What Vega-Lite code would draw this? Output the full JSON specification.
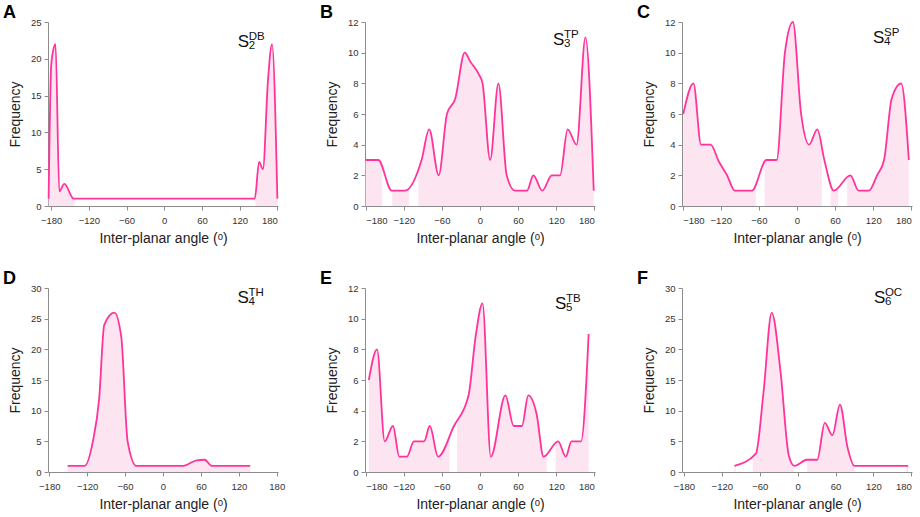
{
  "$schema": "https://vega.github.io/schema/vega-lite/v6.json",
  "padding": {"left": 3, "top": 4, "right": 5, "bottom": 5},
  "config": {
    "view": {"stroke": null},
    "font": "Liberation Sans",
    "axis": {
      "grid": false,
      "zindex": 1,
      "labelOverlap": false,
      "format": "d",
      "domainColor": "#8c8c8c",
      "tickColor": "#8c8c8c",
      "labelColor": "#333333",
      "labelFontSize": 9.5,
      "titleFontSize": 14,
      "titleFontWeight": "normal",
      "titleColor": "#222222",
      "tickSize": 4
    },
    "axisX": {"labelPadding": 5, "titlePadding": 7},
    "axisY": {"labelPadding": 3, "titlePadding": 8},
    "title": {"fontSize": 18, "fontWeight": "bold", "anchor": "start", "frame": "group", "dx": -45, "offset": -5, "color": "#000000"}
  },
  "datasets": {
    "A": [
      {"angle": -184, "freq": 1}, {"angle": -180, "freq": 19}, {"angle": -177, "freq": 21}, {"angle": -173, "freq": 22},
      {"angle": -167, "freq": 2}, {"angle": -159, "freq": 3}, {"angle": -144, "freq": 1}, {"angle": 144, "freq": 1},
      {"angle": 151, "freq": 6}, {"angle": 157, "freq": 5}, {"angle": 165, "freq": 17}, {"angle": 171.5, "freq": 22},
      {"angle": 180, "freq": 1}
    ],
    "B": [
      {"angle": -180, "freq": 3}, {"angle": -160, "freq": 3}, {"angle": -139, "freq": 1}, {"angle": -118, "freq": 1},
      {"angle": -92, "freq": 3}, {"angle": -80, "freq": 5}, {"angle": -65, "freq": 2}, {"angle": -52, "freq": 6},
      {"angle": -39, "freq": 7}, {"angle": -24, "freq": 10}, {"angle": -15, "freq": 9.4}, {"angle": -2, "freq": 8.6},
      {"angle": 4, "freq": 8}, {"angle": 16, "freq": 3}, {"angle": 29, "freq": 8}, {"angle": 42, "freq": 2},
      {"angle": 55, "freq": 1}, {"angle": 74, "freq": 1}, {"angle": 84, "freq": 2}, {"angle": 98, "freq": 1},
      {"angle": 113, "freq": 2}, {"angle": 126, "freq": 2}, {"angle": 138, "freq": 5}, {"angle": 152, "freq": 4},
      {"angle": 166, "freq": 11}, {"angle": 179, "freq": 1}
    ],
    "C": [
      {"angle": -179, "freq": 6}, {"angle": -163, "freq": 8}, {"angle": -151, "freq": 4}, {"angle": -136, "freq": 4},
      {"angle": -123, "freq": 2.9}, {"angle": -110, "freq": 2}, {"angle": -98, "freq": 1}, {"angle": -71, "freq": 1},
      {"angle": -48, "freq": 3}, {"angle": -32, "freq": 3}, {"angle": -19, "freq": 10}, {"angle": -6.5, "freq": 12},
      {"angle": 6.5, "freq": 6}, {"angle": 19, "freq": 4}, {"angle": 32, "freq": 5}, {"angle": 43, "freq": 3},
      {"angle": 58, "freq": 1}, {"angle": 84, "freq": 2}, {"angle": 97, "freq": 1}, {"angle": 113, "freq": 1},
      {"angle": 126, "freq": 2}, {"angle": 137, "freq": 3}, {"angle": 149, "freq": 7}, {"angle": 164, "freq": 8},
      {"angle": 176, "freq": 3}
    ],
    "D": [
      {"angle": -151, "freq": 1}, {"angle": -124, "freq": 1}, {"angle": -111, "freq": 5}, {"angle": -101, "freq": 12},
      {"angle": -93, "freq": 24}, {"angle": -77, "freq": 26}, {"angle": -66, "freq": 22}, {"angle": -56, "freq": 5},
      {"angle": -42, "freq": 1}, {"angle": 32, "freq": 1}, {"angle": 53, "freq": 1.9}, {"angle": 66, "freq": 2},
      {"angle": 77, "freq": 1}, {"angle": 138, "freq": 1}
    ],
    "E": [
      {"angle": -175, "freq": 6}, {"angle": -162, "freq": 8}, {"angle": -150, "freq": 2}, {"angle": -137, "freq": 3},
      {"angle": -127, "freq": 1}, {"angle": -115, "freq": 1}, {"angle": -104, "freq": 2}, {"angle": -88, "freq": 2},
      {"angle": -79, "freq": 3}, {"angle": -66, "freq": 1}, {"angle": -41, "freq": 3}, {"angle": -18, "freq": 5},
      {"angle": -7, "freq": 8.8}, {"angle": 4, "freq": 11}, {"angle": 17, "freq": 1}, {"angle": 40, "freq": 5},
      {"angle": 53, "freq": 3}, {"angle": 66, "freq": 3}, {"angle": 76, "freq": 5}, {"angle": 89, "freq": 3.8},
      {"angle": 100, "freq": 1}, {"angle": 123, "freq": 2}, {"angle": 135, "freq": 1}, {"angle": 144, "freq": 2},
      {"angle": 159, "freq": 2}, {"angle": 171, "freq": 9}
    ],
    "F": [
      {"angle": -100, "freq": 1}, {"angle": -66, "freq": 3}, {"angle": -54, "freq": 13}, {"angle": -41, "freq": 26},
      {"angle": -27, "freq": 16.3}, {"angle": -14, "freq": 2.7}, {"angle": -5, "freq": 1}, {"angle": 15, "freq": 2},
      {"angle": 31, "freq": 2}, {"angle": 43, "freq": 8}, {"angle": 55, "freq": 6}, {"angle": 67, "freq": 11},
      {"angle": 79, "freq": 4}, {"angle": 90, "freq": 1}, {"angle": 175, "freq": 1}
    ],
    "gaps": [
      {"panel": "A", "from": -143, "to": 145},
      {"panel": "B", "from": -154, "to": -138},
      {"panel": "B", "from": -112, "to": -97},
      {"panel": "C", "from": -65, "to": -51},
      {"panel": "C", "from": 39, "to": 53},
      {"panel": "C", "from": 65, "to": 79},
      {"panel": "E", "from": -48, "to": -36},
      {"panel": "E", "from": 105, "to": 119},
      {"panel": "F", "from": -98, "to": -71},
      {"panel": "F", "from": -5, "to": 15},
      {"panel": "F", "from": 90, "to": 172}
    ],
    "labels": [
      {"panel": "A", "x": 117, "y": 21.6, "sub": "2", "sup": "DB"},
      {"panel": "B", "x": 115, "y": 10.5, "sub": "3", "sup": "TP"},
      {"panel": "C", "x": 119.6, "y": 10.6, "sub": "4", "sup": "SP"},
      {"panel": "D", "x": 118, "y": 27.5, "sub": "4", "sup": "TH"},
      {"panel": "E", "x": 118, "y": 10.6, "sub": "5", "sup": "TB"},
      {"panel": "F", "x": 120.7, "y": 27.5, "sub": "6", "sup": "OC"}
    ]
  },
  "bounds": "flush",
  "columns": 3,
  "spacing": {"row": 82, "column": 87},
  "concat": [
    {
      "width": 230, "height": 184,
      "title": "A",
      "layer": [
        {"data": {"name": "A"}, "mark": {"type": "area", "interpolate": "monotone", "color": "#fde4f1"},
         "encoding": {
           "x": {"field": "angle", "type": "quantitative", "title": "Inter-planar angle (ᵒ)", "scale": {"domain": [-185, 181], "nice": false, "zero": false}, "axis": {"values": [-180, -120, -60, 0, 60, 120, 180], "tickCount": 20, "format": "d"}},
           "y": {"field": "freq", "type": "quantitative", "title": "Frequency", "scale": {"domain": [0, 25], "nice": false}, "axis": {"values": [0, 5, 10, 15, 20, 25], "tickCount": 20, "format": "d"}}
         }},
        {"data": {"name": "gaps"}, "transform": [{"filter": "datum.panel === 'A'"}], "mark": {"type": "rect", "color": "#ffffff"},
         "encoding": {"x": {"field": "from", "type": "quantitative"}, "x2": {"field": "to"}}},
        {"data": {"name": "A"}, "mark": {"type": "line", "interpolate": "monotone", "color": "#ff3399", "strokeWidth": 1.8},
         "encoding": {"x": {"field": "angle", "type": "quantitative"}, "y": {"field": "freq", "type": "quantitative"}}},
        {"data": {"name": "labels"}, "transform": [{"filter": "datum.panel === 'A'"}], "mark": {"type": "text", "text": "S", "fontSize": 17, "align": "left", "baseline": "alphabetic", "color": "#111111"},
         "encoding": {"x": {"field": "x", "type": "quantitative"}, "y": {"field": "y", "type": "quantitative"}}},
        {"data": {"name": "labels"}, "transform": [{"filter": "datum.panel === 'A'"}], "mark": {"type": "text", "fontSize": 11.5, "dx": 11, "dy": 2, "align": "left", "baseline": "alphabetic", "color": "#111111"},
         "encoding": {"x": {"field": "x", "type": "quantitative"}, "y": {"field": "y", "type": "quantitative"}, "text": {"field": "sub"}}},
        {"data": {"name": "labels"}, "transform": [{"filter": "datum.panel === 'A'"}], "mark": {"type": "text", "fontSize": 11.5, "dx": 11, "dy": -7, "align": "left", "baseline": "alphabetic", "color": "#111111"},
         "encoding": {"x": {"field": "x", "type": "quantitative"}, "y": {"field": "y", "type": "quantitative"}, "text": {"field": "sup"}}}
      ]
    },
    {
      "width": 230, "height": 184,
      "title": "B",
      "layer": [
        {"data": {"name": "B"}, "mark": {"type": "area", "interpolate": "monotone", "color": "#fde4f1"},
         "encoding": {
           "x": {"field": "angle", "type": "quantitative", "title": "Inter-planar angle (ᵒ)", "scale": {"domain": [-181, 181], "nice": false, "zero": false}, "axis": {"values": [-180, -120, -60, 0, 60, 120, 180], "tickCount": 20, "format": "d"}},
           "y": {"field": "freq", "type": "quantitative", "title": "Frequency", "scale": {"domain": [0, 12], "nice": false}, "axis": {"values": [0, 2, 4, 6, 8, 10, 12], "tickCount": 20, "format": "d"}}
         }},
        {"data": {"name": "gaps"}, "transform": [{"filter": "datum.panel === 'B'"}], "mark": {"type": "rect", "color": "#ffffff"},
         "encoding": {"x": {"field": "from", "type": "quantitative"}, "x2": {"field": "to"}}},
        {"data": {"name": "B"}, "mark": {"type": "line", "interpolate": "monotone", "color": "#ff3399", "strokeWidth": 1.8},
         "encoding": {"x": {"field": "angle", "type": "quantitative"}, "y": {"field": "freq", "type": "quantitative"}}},
        {"data": {"name": "labels"}, "transform": [{"filter": "datum.panel === 'B'"}], "mark": {"type": "text", "text": "S", "fontSize": 17, "align": "left", "baseline": "alphabetic", "color": "#111111"},
         "encoding": {"x": {"field": "x", "type": "quantitative"}, "y": {"field": "y", "type": "quantitative"}}},
        {"data": {"name": "labels"}, "transform": [{"filter": "datum.panel === 'B'"}], "mark": {"type": "text", "fontSize": 11.5, "dx": 11, "dy": 2, "align": "left", "baseline": "alphabetic", "color": "#111111"},
         "encoding": {"x": {"field": "x", "type": "quantitative"}, "y": {"field": "y", "type": "quantitative"}, "text": {"field": "sub"}}},
        {"data": {"name": "labels"}, "transform": [{"filter": "datum.panel === 'B'"}], "mark": {"type": "text", "fontSize": 11.5, "dx": 11, "dy": -7, "align": "left", "baseline": "alphabetic", "color": "#111111"},
         "encoding": {"x": {"field": "x", "type": "quantitative"}, "y": {"field": "y", "type": "quantitative"}, "text": {"field": "sup"}}}
      ]
    },
    {
      "width": 230, "height": 184,
      "title": "C",
      "layer": [
        {"data": {"name": "C"}, "mark": {"type": "area", "interpolate": "monotone", "color": "#fde4f1"},
         "encoding": {
           "x": {"field": "angle", "type": "quantitative", "title": "Inter-planar angle (ᵒ)", "scale": {"domain": [-181, 181], "nice": false, "zero": false}, "axis": {"values": [-180, -120, -60, 0, 60, 120, 180], "tickCount": 20, "format": "d"}},
           "y": {"field": "freq", "type": "quantitative", "title": "Frequency", "scale": {"domain": [0, 12], "nice": false}, "axis": {"values": [0, 2, 4, 6, 8, 10, 12], "tickCount": 20, "format": "d"}}
         }},
        {"data": {"name": "gaps"}, "transform": [{"filter": "datum.panel === 'C'"}], "mark": {"type": "rect", "color": "#ffffff"},
         "encoding": {"x": {"field": "from", "type": "quantitative"}, "x2": {"field": "to"}}},
        {"data": {"name": "C"}, "mark": {"type": "line", "interpolate": "monotone", "color": "#ff3399", "strokeWidth": 1.8},
         "encoding": {"x": {"field": "angle", "type": "quantitative"}, "y": {"field": "freq", "type": "quantitative"}}},
        {"data": {"name": "labels"}, "transform": [{"filter": "datum.panel === 'C'"}], "mark": {"type": "text", "text": "S", "fontSize": 17, "align": "left", "baseline": "alphabetic", "color": "#111111"},
         "encoding": {"x": {"field": "x", "type": "quantitative"}, "y": {"field": "y", "type": "quantitative"}}},
        {"data": {"name": "labels"}, "transform": [{"filter": "datum.panel === 'C'"}], "mark": {"type": "text", "fontSize": 11.5, "dx": 11, "dy": 2, "align": "left", "baseline": "alphabetic", "color": "#111111"},
         "encoding": {"x": {"field": "x", "type": "quantitative"}, "y": {"field": "y", "type": "quantitative"}, "text": {"field": "sub"}}},
        {"data": {"name": "labels"}, "transform": [{"filter": "datum.panel === 'C'"}], "mark": {"type": "text", "fontSize": 11.5, "dx": 11, "dy": -7, "align": "left", "baseline": "alphabetic", "color": "#111111"},
         "encoding": {"x": {"field": "x", "type": "quantitative"}, "y": {"field": "y", "type": "quantitative"}, "text": {"field": "sup"}}}
      ]
    },
    {
      "width": 230, "height": 184,
      "title": "D",
      "layer": [
        {"data": {"name": "D"}, "mark": {"type": "area", "interpolate": "monotone", "color": "#fde4f1"},
         "encoding": {
           "x": {"field": "angle", "type": "quantitative", "title": "Inter-planar angle (ᵒ)", "scale": {"domain": [-182, 182], "nice": false, "zero": false}, "axis": {"values": [-180, -120, -60, 0, 60, 120, 180], "tickCount": 20, "format": "d"}},
           "y": {"field": "freq", "type": "quantitative", "title": "Frequency", "scale": {"domain": [0, 30], "nice": false}, "axis": {"values": [0, 5, 10, 15, 20, 25, 30], "tickCount": 20, "format": "d"}}
         }},
        {"data": {"name": "D"}, "mark": {"type": "line", "interpolate": "monotone", "color": "#ff3399", "strokeWidth": 1.8},
         "encoding": {"x": {"field": "angle", "type": "quantitative"}, "y": {"field": "freq", "type": "quantitative"}}},
        {"data": {"name": "labels"}, "transform": [{"filter": "datum.panel === 'D'"}], "mark": {"type": "text", "text": "S", "fontSize": 17, "align": "left", "baseline": "alphabetic", "color": "#111111"},
         "encoding": {"x": {"field": "x", "type": "quantitative"}, "y": {"field": "y", "type": "quantitative"}}},
        {"data": {"name": "labels"}, "transform": [{"filter": "datum.panel === 'D'"}], "mark": {"type": "text", "fontSize": 11.5, "dx": 11, "dy": 2, "align": "left", "baseline": "alphabetic", "color": "#111111"},
         "encoding": {"x": {"field": "x", "type": "quantitative"}, "y": {"field": "y", "type": "quantitative"}, "text": {"field": "sub"}}},
        {"data": {"name": "labels"}, "transform": [{"filter": "datum.panel === 'D'"}], "mark": {"type": "text", "fontSize": 11.5, "dx": 11, "dy": -7, "align": "left", "baseline": "alphabetic", "color": "#111111"},
         "encoding": {"x": {"field": "x", "type": "quantitative"}, "y": {"field": "y", "type": "quantitative"}, "text": {"field": "sup"}}}
      ]
    },
    {
      "width": 230, "height": 184,
      "title": "E",
      "layer": [
        {"data": {"name": "E"}, "mark": {"type": "area", "interpolate": "monotone", "color": "#fde4f1"},
         "encoding": {
           "x": {"field": "angle", "type": "quantitative", "title": "Inter-planar angle (ᵒ)", "scale": {"domain": [-181, 181], "nice": false, "zero": false}, "axis": {"values": [-180, -120, -60, 0, 60, 120, 180], "tickCount": 20, "format": "d"}},
           "y": {"field": "freq", "type": "quantitative", "title": "Frequency", "scale": {"domain": [0, 12], "nice": false}, "axis": {"values": [0, 2, 4, 6, 8, 10, 12], "tickCount": 20, "format": "d"}}
         }},
        {"data": {"name": "gaps"}, "transform": [{"filter": "datum.panel === 'E'"}], "mark": {"type": "rect", "color": "#ffffff"},
         "encoding": {"x": {"field": "from", "type": "quantitative"}, "x2": {"field": "to"}}},
        {"data": {"name": "E"}, "mark": {"type": "line", "interpolate": "monotone", "color": "#ff3399", "strokeWidth": 1.8},
         "encoding": {"x": {"field": "angle", "type": "quantitative"}, "y": {"field": "freq", "type": "quantitative"}}},
        {"data": {"name": "labels"}, "transform": [{"filter": "datum.panel === 'E'"}], "mark": {"type": "text", "text": "S", "fontSize": 17, "align": "left", "baseline": "alphabetic", "color": "#111111"},
         "encoding": {"x": {"field": "x", "type": "quantitative"}, "y": {"field": "y", "type": "quantitative"}}},
        {"data": {"name": "labels"}, "transform": [{"filter": "datum.panel === 'E'"}], "mark": {"type": "text", "fontSize": 11.5, "dx": 11, "dy": 2, "align": "left", "baseline": "alphabetic", "color": "#111111"},
         "encoding": {"x": {"field": "x", "type": "quantitative"}, "y": {"field": "y", "type": "quantitative"}, "text": {"field": "sub"}}},
        {"data": {"name": "labels"}, "transform": [{"filter": "datum.panel === 'E'"}], "mark": {"type": "text", "fontSize": 11.5, "dx": 11, "dy": -7, "align": "left", "baseline": "alphabetic", "color": "#111111"},
         "encoding": {"x": {"field": "x", "type": "quantitative"}, "y": {"field": "y", "type": "quantitative"}, "text": {"field": "sup"}}}
      ]
    },
    {
      "width": 230, "height": 184,
      "title": "F",
      "layer": [
        {"data": {"name": "F"}, "mark": {"type": "area", "interpolate": "monotone", "color": "#fde4f1"},
         "encoding": {
           "x": {"field": "angle", "type": "quantitative", "title": "Inter-planar angle (ᵒ)", "scale": {"domain": [-183, 181], "nice": false, "zero": false}, "axis": {"values": [-180, -120, -60, 0, 60, 120, 180], "tickCount": 20, "format": "d"}},
           "y": {"field": "freq", "type": "quantitative", "title": "Frequency", "scale": {"domain": [0, 30], "nice": false}, "axis": {"values": [0, 5, 10, 15, 20, 25, 30], "tickCount": 20, "format": "d"}}
         }},
        {"data": {"name": "gaps"}, "transform": [{"filter": "datum.panel === 'F'"}], "mark": {"type": "rect", "color": "#ffffff"},
         "encoding": {"x": {"field": "from", "type": "quantitative"}, "x2": {"field": "to"}}},
        {"data": {"name": "F"}, "mark": {"type": "line", "interpolate": "monotone", "color": "#ff3399", "strokeWidth": 1.8},
         "encoding": {"x": {"field": "angle", "type": "quantitative"}, "y": {"field": "freq", "type": "quantitative"}}},
        {"data": {"name": "labels"}, "transform": [{"filter": "datum.panel === 'F'"}], "mark": {"type": "text", "text": "S", "fontSize": 17, "align": "left", "baseline": "alphabetic", "color": "#111111"},
         "encoding": {"x": {"field": "x", "type": "quantitative"}, "y": {"field": "y", "type": "quantitative"}}},
        {"data": {"name": "labels"}, "transform": [{"filter": "datum.panel === 'F'"}], "mark": {"type": "text", "fontSize": 11.5, "dx": 11, "dy": 2, "align": "left", "baseline": "alphabetic", "color": "#111111"},
         "encoding": {"x": {"field": "x", "type": "quantitative"}, "y": {"field": "y", "type": "quantitative"}, "text": {"field": "sub"}}},
        {"data": {"name": "labels"}, "transform": [{"filter": "datum.panel === 'F'"}], "mark": {"type": "text", "fontSize": 11.5, "dx": 11, "dy": -7, "align": "left", "baseline": "alphabetic", "color": "#111111"},
         "encoding": {"x": {"field": "x", "type": "quantitative"}, "y": {"field": "y", "type": "quantitative"}, "text": {"field": "sup"}}}
      ]
    }
  ]
}
